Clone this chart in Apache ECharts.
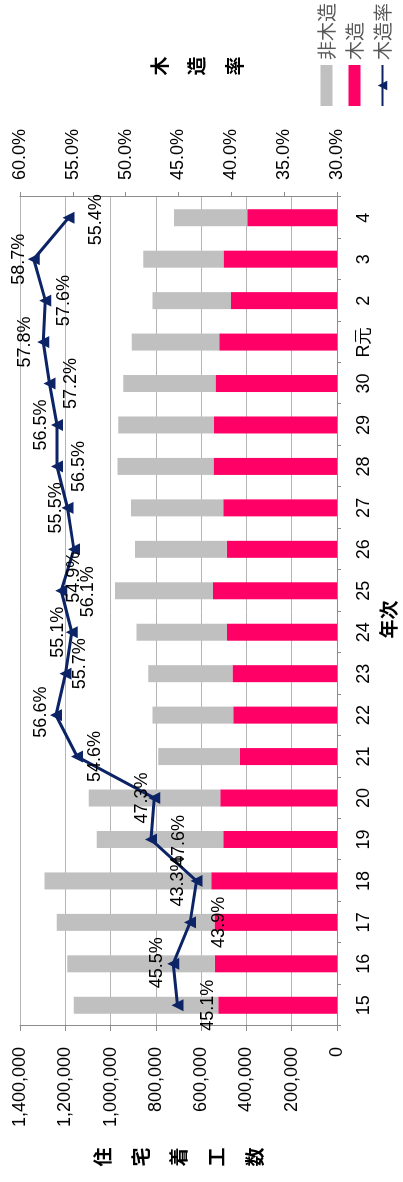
<!DOCTYPE html>
<html>
<head>
<meta charset="utf-8">
<script src="https://cdn.jsdelivr.net/npm/echarts@6/dist/echarts.min.js"></script>
<style>
html,body{margin:0;padding:0;background:#fff;overflow:hidden;width:403px;height:1182px;}
#chart{position:absolute;left:0;top:0;width:1182px;height:403px;transform-origin:0 0;transform:translateY(1182px) rotate(-90deg);}
</style>
</head>
<body>
<div id="chart"></div>
<script>
// 年次 (平成15年〜令和4年)
const categories = ['15','16','17','18','19','20','21','22','23','24','25','26','27','28','29','30','R元','2','3','4'];
// 木造 住宅着工数
const woodValues = [524000,540000,541000,555000,502000,516000,428000,458000,462000,486000,548000,487000,502000,545000,543000,537000,520000,468000,501000,396000];
// 非木造 住宅着工数
const nonWoodValues = [639000,651000,697000,737000,559000,580000,361000,357000,372000,399000,432000,405000,408000,424000,423000,407000,387000,347000,355000,324000];
// 木造率 (%)
const woodRates = [45.1,45.5,43.9,43.3,47.6,47.3,54.6,56.6,55.7,55.1,56.1,54.9,55.5,56.5,56.5,57.2,57.8,57.6,58.7,55.4];

// label nudges (layout only)
const labelNudge = [[0,31],[1,-16],[0,29],[0,-18],[-1,28],[0,-12],[0,18],[3,-15],[10,15],[0,-14],[-1,27],[-28,0],[0,-12],[0,22],[0,-16],[0,21],[0,-18],[0,19],[0,-15],[-2,27]];

const latin = '"Liberation Sans", Arial, sans-serif';
const cjk = '"Noto Sans CJK JP", sans-serif';
const axisGray = '#8c8c8c';

const chart = echarts.init(document.getElementById('chart'), null, {renderer:'canvas'});
chart.setOption({
  animation: false,
  backgroundColor: '#ffffff',
  grid: {left:156, right:197, top:20, bottom:64, containLabel:false},
  legend: {
    orient: 'vertical',
    left: 1075, top: 317, padding: 0,
    itemWidth: 41, itemHeight: 12, itemGap: 9,
    textStyle: {fontSize: 19, fontFamily: cjk, color: '#595959'},
    data: [{name:'非木造', icon:'rect'}, {name:'木造', icon:'rect'}, {name:'木造率'}]
  },
  xAxis: {
    type: 'category',
    data: categories,
    axisLine: {lineStyle: {color: axisGray, width: 1}},
    axisTick: {show: true, length: 4, lineStyle: {color: axisGray}},
    axisLabel: {fontSize: 18, fontFamily: latin, color: '#000', margin: 18},
    name: '年次',
    nameLocation: 'middle',
    nameGap: 42,
    nameTextStyle: {fontSize: 19, fontWeight: 'bold', fontFamily: cjk, color: '#000', padding: [0,16,0,0]}
  },
  yAxis: [
    {
      type: 'value', position: 'left',
      min: 0, max: 1400000, interval: 200000,
      axisLine: {show: true, lineStyle: {color: axisGray}},
      axisTick: {show: true, length: 5, lineStyle: {color: axisGray}},
      splitLine: {show: true, lineStyle: {color: '#b4b4b4', width: 1}},
      axisLabel: {fontSize: 18, fontFamily: latin, color: '#000', margin: 21,
        formatter: v => v.toLocaleString('en-US')},
      name: '住\n宅\n着\n工\n数',
      nameLocation: 'middle', nameRotate: 0, nameGap: 131,
      nameTextStyle: {fontSize: 19, fontWeight: 'bold', fontFamily: cjk, color: '#000',
        lineHeight: 38, align: 'center', verticalAlign: 'middle'}
    },
    {
      type: 'value', position: 'right',
      min: 30, max: 60, interval: 5,
      axisLine: {show: true, lineStyle: {color: axisGray}},
      axisTick: {show: true, length: 5, lineStyle: {color: axisGray}},
      splitLine: {show: false},
      axisLabel: {fontSize: 18, fontFamily: latin, color: '#000', margin: 17,
        formatter: v => v.toFixed(1) + '%'},
      name: '\n木\n造\n率',
      nameLocation: 'middle', nameRotate: 0, nameGap: 131,
      nameTextStyle: {fontSize: 19, fontWeight: 'bold', fontFamily: cjk, color: '#000',
        lineHeight: 37.5, align: 'center', verticalAlign: 'middle'}
    }
  ],
  series: [
    {
      name: '木造', type: 'bar', stack: 'total', barWidth: 17,
      itemStyle: {color: '#ff0066'},
      data: woodValues
    },
    {
      name: '非木造', type: 'bar', stack: 'total', barWidth: 17,
      itemStyle: {color: '#c0c0c0'},
      data: nonWoodValues
    },
    {
      name: '木造率', type: 'line', yAxisIndex: 1,
      symbol: 'triangle', symbolSize: 12,
      itemStyle: {color: '#0c2466'},
      lineStyle: {color: '#0c2466', width: 3},
      label: {show: true, position: 'inside', fontSize: 18, fontFamily: latin, color: '#000',
        align: 'center', verticalAlign: 'middle',
        formatter: p => Number(p.value).toFixed(1) + '%'},
      data: woodRates.map((v, i) => ({value: v, label: {offset: labelNudge[i]}})),
      z: 5
    }
  ]
});
</script>
</body>
</html>
